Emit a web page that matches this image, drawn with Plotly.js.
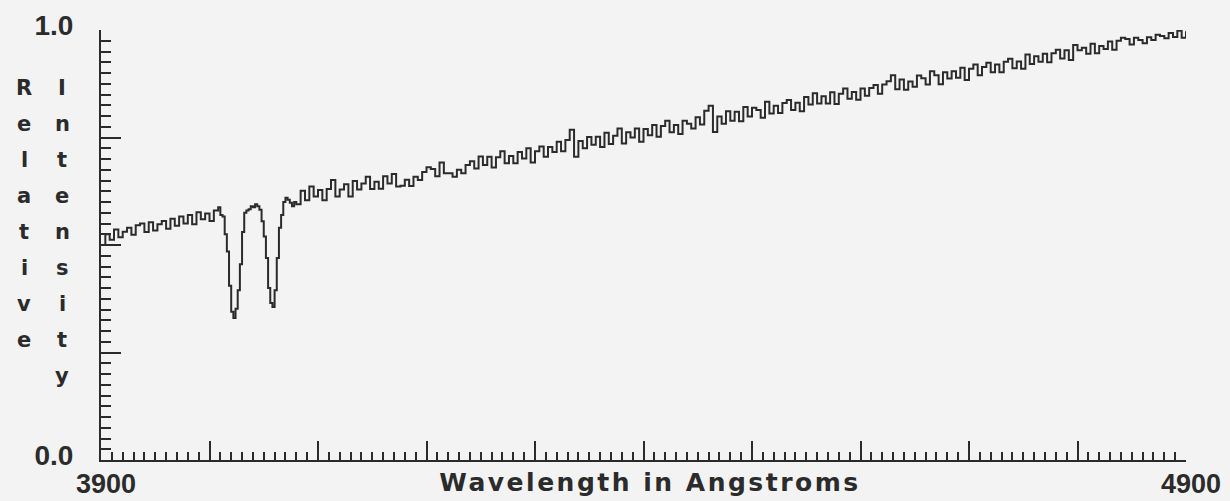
<!DOCTYPE html>
<html>
<head>
<meta charset="utf-8">
<script src="https://cdn.plot.ly/plotly-3.0.1.min.js"></script>
<style>
  html, body { margin: 0; padding: 0; background: #f3f3f3; }
  #chart { width: 1230px; height: 501px; }
</style>
</head>
<body>
<div id="chart"></div>
<script>
// ---- Data ----
const waveBlue = [3900,3904,3908,3912,3916,3920,3924,3928,3932,3936,3940,3944,3948,3952,3956,3960,3964,3968,3972,3976,3980,3984,3988,3992,3996,4000,4004,4008];
const fluxBlue = [0.500,0.525,0.512,0.536,0.518,0.531,0.540,0.524,0.546,0.550,0.530,0.553,0.534,0.548,0.556,0.538,0.561,0.545,0.566,0.550,0.570,0.548,0.576,0.560,0.573,0.556,0.580,0.588];

const waveCaHK = [4010,4012,4014,4016,4018,4020,4022,4024,4026,4028,4030,4032,4034,4036,4038,4040,4042,4044,4046,4048,4050,4052,4054,4056,4058,4060,4062,4064,4066,4068,4070,4072,4074,4076,4078,4080];
const fluxCaHK = [0.570,0.566,0.525,0.485,0.405,0.345,0.330,0.352,0.395,0.455,0.530,0.575,0.580,0.583,0.590,0.588,0.595,0.590,0.582,0.555,0.520,0.470,0.400,0.365,0.356,0.395,0.470,0.540,0.570,0.600,0.610,0.605,0.598,0.590,0.600,0.595];

const waveRed = [4084,4088,4092,4096,4100,4104,4108,4112,4116,4120,
4124,4128,4132,4136,4140,4144,4148,4152,4156,4160,
4164,4168,4172,4176,4180,4184,4188,4192,4196,4200,
4204,4208,4212,4216,4220,4224,4228,4232,4236,4240,
4244,4248,4252,4256,4260,4264,4268,4272,4276,4280,
4284,4288,4292,4296,4300,4304,4308,4312,4316,4320,
4324,4328,4332,4336,4340,4344,4348,4352,4356,4360,
4364,4368,4372,4376,4380,4384,4388,4392,4396,4400,
4404,4408,4412,4416,4420,4424,4428,4432,4436,4440,
4444,4448,4452,4456,4460,4464,4468,4472,4476,4480,
4484,4488,4492,4496,4500,4504,4508,4512,4516,4520,
4524,4528,4532,4536,4540,4544,4548,4552,4556,4560,
4564,4568,4572,4576,4580,4584,4588,4592,4596,4600,
4604,4608,4612,4616,4620,4624,4628,4632,4636,4640,
4644,4648,4652,4656,4660,4664,4668,4672,4676,4680,
4684,4688,4692,4696,4700,4704,4708,4712,4716,4720,
4724,4728,4732,4736,4740,4744,4748,4752,4756,4760,
4764,4768,4772,4776,4780,4784,4788,4792,4796,4800,
4804,4808,4812,4816,4820,4824,4828,4832,4836,4840,
4844,4848,4852,4856,4860,4864,4868,4872,4876,4880,
4884,4888,4892,4896,4900];
const fluxRed = [0.626,0.604,0.636,0.613,0.628,0.604,0.630,0.651,0.613,0.629,
0.641,0.613,0.649,0.629,0.643,0.659,0.630,0.647,0.631,0.660,
0.643,0.665,0.636,0.638,0.652,0.637,0.659,0.651,0.670,0.681,
0.677,0.660,0.692,0.667,0.667,0.659,0.675,0.667,0.686,0.695,
0.678,0.706,0.686,0.705,0.680,0.704,0.718,0.690,0.707,0.690,
0.716,0.701,0.725,0.692,0.718,0.729,0.705,0.728,0.716,0.740,
0.718,0.744,0.768,0.705,0.742,0.725,0.751,0.733,0.752,0.728,
0.761,0.735,0.754,0.771,0.736,0.762,0.750,0.771,0.740,0.770,
0.755,0.779,0.752,0.777,0.789,0.762,0.779,0.758,0.789,0.782,
0.771,0.797,0.780,0.812,0.824,0.763,0.799,0.782,0.811,0.789,
0.810,0.788,0.821,0.799,0.819,0.814,0.796,0.833,0.806,0.824,
0.807,0.830,0.837,0.814,0.831,0.811,0.844,0.827,0.853,0.829,
0.846,0.829,0.855,0.828,0.852,0.864,0.840,0.856,0.838,0.864,
0.847,0.865,0.872,0.852,0.873,0.881,0.895,0.862,0.885,0.861,
0.880,0.868,0.894,0.888,0.873,0.904,0.895,0.874,0.902,0.887,
0.904,0.889,0.912,0.884,0.910,0.920,0.895,0.914,0.924,0.902,
0.920,0.902,0.926,0.933,0.911,0.927,0.910,0.943,0.921,0.939,
0.926,0.945,0.925,0.946,0.954,0.934,0.953,0.930,0.965,0.953,
0.959,0.945,0.968,0.946,0.963,0.956,0.973,0.954,0.975,0.982,
0.979,0.966,0.982,0.977,0.969,0.983,0.977,0.989,0.986,0.981,
0.993,0.984,0.998,0.982,0.997];

const xTickVals = [3900,4000,4100,4200,4300,4400,4500,4600,4700,4800,4900];
const xTickText = ['3900','','','','','','','','','','4900'];
const yTickVals = [0,0.25,0.5,0.75,1.0];
const yTickText = ['0.0','','','','1.0'];
const xTitle = 'Wavelength in Angstroms';
const yTitleLeft = 'Relative';
const yTitleRight = 'Intensity';

// ---- Build ----
const wave = waveBlue.concat(waveCaHK, waveRed);
const flux = fluxBlue.concat(fluxCaHK, fluxRed);

const ink = '#2b2b2b';
const bg = '#f3f3f3';
const W = 1230, H = 501;
const M = {l: 101, r: 44, t: 30, b: 41};
const plotH = H - M.t - M.b;
const plotW = W - M.l - M.r;

const trace = {
  x: wave, y: flux, type: 'scatter', mode: 'lines',
  line: {color: ink, width: 2, shape: 'hv'},
  hoverinfo: 'x+y', showlegend: false
};

const annotations = [];
const rowStart = 88, rowStep = 36;
function addColumn(word, px) {
  for (let i = 0; i < word.length; i++) {
    const py = rowStart + rowStep * i;
    annotations.push({
      text: word[i], xref: 'paper', yref: 'paper',
      x: (px - M.l) / plotW, y: (M.t + plotH - py) / plotH,
      xanchor: 'center', yanchor: 'middle', showarrow: false,
      font: {family: 'DejaVu Sans', size: 21, color: ink, weight: 'bold'}
    });
  }
}
addColumn(yTitleLeft, 24);
addColumn(yTitleRight, 62);

annotations.push({
  text: xTitle, xref: 'paper', yref: 'paper',
  x: (650 - M.l) / plotW, y: (M.t + plotH - 482) / plotH,
  xanchor: 'center', yanchor: 'middle', showarrow: false,
  font: {family: 'DejaVu Sans', size: 25, color: ink, weight: 'bold'}
});

const layout = {
  width: W, height: H,
  margin: M,
  paper_bgcolor: bg, plot_bgcolor: bg,
  showlegend: false,
  xaxis: {
    range: [3900, 4900], autorange: false,
    showline: true, linecolor: ink, linewidth: 2, mirror: false,
    showgrid: false, zeroline: false,
    tickmode: 'array', tickvals: xTickVals, ticktext: xTickText,
    ticks: 'inside', ticklen: 19, tickwidth: 2, tickcolor: ink,
    minor: {tickmode: 'linear', tick0: 3900, dtick: 10, ticks: 'inside', ticklen: 8, tickwidth: 2, tickcolor: ink, showgrid: false},
    tickfont: {family: 'Liberation Sans', size: 27, color: ink, weight: 'bold'},
    ticklabelstandoff: -1, ticklabelshift: 5,
    fixedrange: true
  },
  yaxis: {
    range: [0, 1], autorange: false,
    showline: true, linecolor: ink, linewidth: 2,
    showgrid: false, zeroline: false,
    tickmode: 'array', tickvals: yTickVals, ticktext: yTickText,
    ticks: 'inside', ticklen: 20, tickwidth: 2, tickcolor: ink,
    minor: {tickmode: 'linear', tick0: 0, dtick: 0.025, ticks: 'inside', ticklen: 10, tickwidth: 2, tickcolor: ink, showgrid: false},
    tickfont: {family: 'Liberation Sans', size: 28, color: ink, weight: 'bold'},
    ticklabelstandoff: 20, ticklabelshift: -5,
    fixedrange: true
  },
  annotations: annotations
};

Plotly.newPlot('chart', [trace], layout, {displayModeBar: false, staticPlot: true}).then(function () {
  // widen letter spacing of the x-axis caption to match the original lettering
  document.querySelectorAll('.annotation-text').forEach(function (el) {
    if (el.textContent === xTitle) { el.style.letterSpacing = '2.5px'; }
  });
});
</script>
</body>
</html>
